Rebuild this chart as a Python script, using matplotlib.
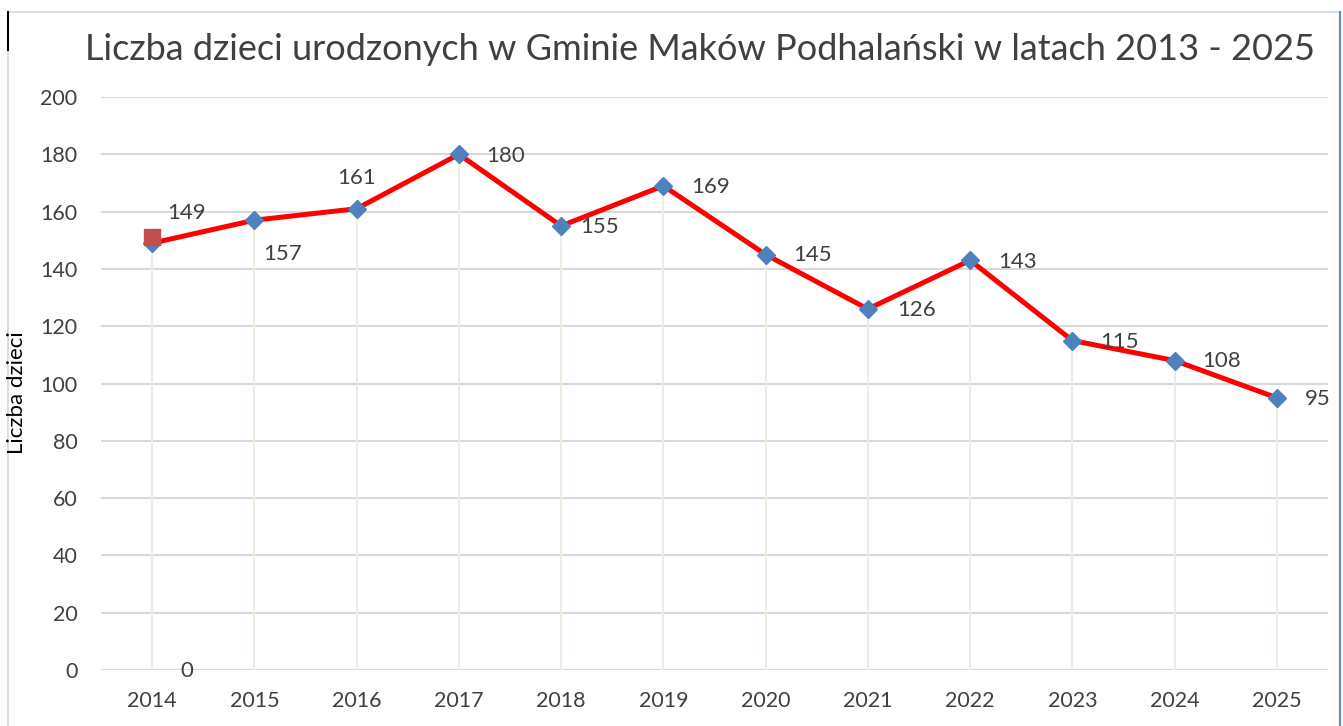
import matplotlib.pyplot as plt
from matplotlib.patches import Rectangle

years = ['2014', '2015', '2016', '2017', '2018', '2019', '2020', '2021', '2022', '2023', '2024', '2025']
births = [149, 157, 161, 180, 155, 169, 145, 126, 143, 115, 108, 95]
# label offsets (points) for each value label
label_dx = [11, 6, 0, 20, 14, 20, 20, 21, 20, 20, 20, 20]
label_dy = [22, -24, 22, -1, -1, -1, 0, -1, -1, -1, 0, -1]
extra_val = 151   # lone point from the second series
extra_label = '0'

plt.rcParams['font.family'] = ['Lato', 'DejaVu Sans']
text_c = '#404040'

fig = plt.figure(figsize=(13.43, 7.26), dpi=100)
ax = fig.add_axes([101/1343, 1-670/726, 1227/1343, 573/726])

x = list(range(len(years)))

# drop lines from each point down to the axis
ax.vlines(x, 0, births, color='#EEECE1', lw=1.5, zorder=1)
ax.plot(x, births, color='#FF0000', lw=3.6, zorder=3)
ax.plot(x, births, ls='none', marker='D', ms=9, color='#4F81BD', zorder=4)
ax.plot([0], [extra_val], ls='none', marker='s', ms=11.5, color='#C0504D', zorder=5)

for i, v in enumerate(births):
    ax.annotate(str(v), (i, v), xytext=(label_dx[i], label_dy[i]), textcoords='offset points',
                ha='left' if label_dx[i] > 0 else 'center', va='center', fontsize=16, color=text_c)
ax.annotate(extra_label, (0, 0), xytext=(20, -1), textcoords='offset points',
            ha='left', va='center', fontsize=16, color=text_c)

ax.set_xlim(-0.5, len(years) - 0.5)
ax.set_ylim(0, 200)
ax.set_yticks(range(0, 201, 20))
ax.set_xticks(x)
ax.set_xticklabels(years)
ax.yaxis.grid(True, color='#D9D9D9', lw=1.5)
ax.set_axisbelow(True)
for s in ax.spines.values():
    s.set_visible(False)
ax.tick_params(length=0, labelsize=15.5, labelcolor=text_c)
ax.tick_params(axis='x', pad=15)
ax.tick_params(axis='y', pad=17)

fig.text(17/1343, 1-393/726, 'Liczba dzieci', rotation=90, ha='center', va='center',
         fontsize=16, color='black')
fig.text(700/1343, 1-50/726, 'Liczba dzieci urodzonych w Gminie Maków Podhalański w latach 2013 - 2025',
         ha='center', va='center', fontsize=26, color=text_c)

# outer chart frame
fig.patches.append(Rectangle((8/1343, -0.01), (1340-8)/1343, 1-12/726 + 0.01, transform=fig.transFigure,
                             fill=False, ec='#D0D8E4', lw=1.2))
fig.add_artist(plt.Line2D([1340/1343, 1340/1343], [0, 1-12/726], color='#5B8BD0', lw=1.5,
                          transform=fig.transFigure))
fig.add_artist(plt.Line2D([8/1343, 8/1343], [1-50/726, 1-12/726], color='black', lw=1.5,
                          transform=fig.transFigure))

fig.savefig('out.png', dpi=100, facecolor='white')
